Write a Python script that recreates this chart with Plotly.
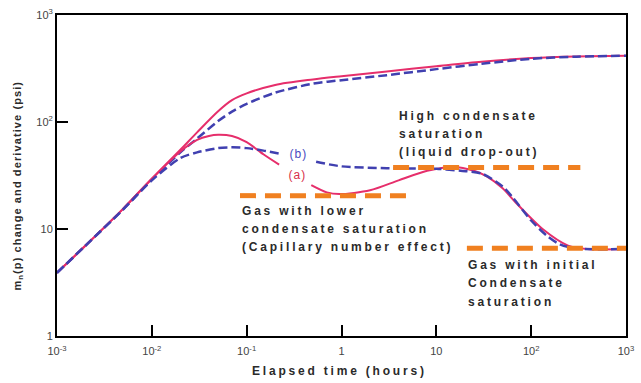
import json
import plotly.graph_objects as go

# Elapsed time (hours) for the pressure-change curves
t_change = [0.001, 0.002, 0.005, 0.01, 0.02, 0.03, 0.05, 0.07, 0.1, 0.2, 0.5, 1, 3, 10, 30, 100, 300, 1000]
# m_n(p) change, case (a) solid and case (b) dashed
change_a = [3.9, 7.0, 15.5, 29.5, 55, 80, 126, 160, 185, 222, 250, 268, 297, 332, 366, 396, 410, 416]
change_b = [3.9, 7.0, 15.3, 29, 52, 70, 102, 125, 148, 188, 228, 246, 274, 312, 350, 390, 408, 416]

# Derivative, case (a) (None = break around the "(a)" label)
t_deriv_a = [0.001, 0.002, 0.005, 0.01, 0.02, 0.03, 0.04, 0.05, 0.07, 0.1, 0.15, 0.22,
             0.35, 0.48, 0.7, 0.95, 2, 4, 8, 15, 25, 34, 50, 69, 132, 245, 390, 1000]
deriv_a = [3.9, 7.0, 15.5, 29.5, 53, 68, 74, 76, 74, 65, 50, 40,
           None, 25.7, 22, 21.2, 23, 28.5, 35, 38, 35, 31, 24, 17.6, 10, 7.0, 6.5, 6.5]

# Derivative, case (b) (None = break around the "(b)" label)
t_deriv_b = [0.001, 0.002, 0.005, 0.01, 0.02, 0.03, 0.05, 0.07, 0.1, 0.15, 0.24,
             0.38, 0.54, 1, 3, 10, 18, 30, 50, 63, 100, 150, 200, 290, 1000]
deriv_b = [3.9, 7.0, 15.3, 28.5, 46, 52, 57, 58, 57, 54, 50,
           None, 42.5, 38.5, 37, 36.5, 35, 33, 25, 20, 12, 8.5, 7.2, 6.6, 6.5]

# Reference stabilisation levels
lower_sat_t = [0.085, 5.9]
lower_sat_level = [20.5, 20.5]
high_sat_t = [3.5, 330]
high_sat_level = [37.5, 37.5]
initial_sat_t = [21, 1000]
initial_sat_level = [6.6, 6.6]

x_ticks = [0.001, 0.01, 0.1, 1, 10, 100, 1000]
x_ticktext = ["10<sup>-3</sup>", "10<sup>-2</sup>", "10<sup>-1</sup>", "1", "10",
              "10<sup>2</sup>", "10<sup>3</sup>"]
y_ticks = [1, 10, 100, 1000]
y_ticktext = ["1", "10", "10<sup>2</sup>", "10<sup>3</sup>"]

PINK = "#e62e6b"
BLUE = "#4040b0"
ORANGE = "#f08020"
TEXT = "#2a2a2a"
FONT = "Liberation Sans, Arial, sans-serif"

fig = go.Figure()

fig.add_trace(go.Scatter(x=t_change, y=change_a, mode="lines",
                         line=dict(color=PINK, width=2, shape="spline", smoothing=0.8)))
fig.add_trace(go.Scatter(x=t_change, y=change_b, mode="lines",
                         line=dict(color=BLUE, width=2.5, dash="9px,4px", shape="spline", smoothing=0.8)))
fig.add_trace(go.Scatter(x=t_deriv_a, y=deriv_a, mode="lines", connectgaps=False,
                         line=dict(color=PINK, width=2, shape="spline", smoothing=0.8)))
fig.add_trace(go.Scatter(x=t_deriv_b, y=deriv_b, mode="lines", connectgaps=False,
                         line=dict(color=BLUE, width=2.5, dash="9px,4px", shape="spline", smoothing=0.8)))

for tx, lv in [(lower_sat_t, lower_sat_level), (high_sat_t, high_sat_level),
               (initial_sat_t, initial_sat_level)]:
    fig.add_trace(go.Scatter(x=tx, y=lv, mode="lines",
                             line=dict(color=ORANGE, width=5, dash="16px,9px")))

annotations = []
spacing = []


def label(text, lx, ly, size=12, color=TEXT, weight="bold", ls=2.8, xanchor="left",
          align="left", xref="x", yref="y", angle=0):
    annotations.append(dict(text=text, x=lx, y=ly, xref=xref, yref=yref,
                            xanchor=xanchor, yanchor="middle", align=align,
                            showarrow=False, textangle=angle,
                            font=dict(family=FONT, size=size, color=color, weight=weight)))
    spacing.append(ls)


# text blocks, one annotation per line (x, y in log10 units of the axes)
for i, line in enumerate(["High condensate", "saturation", "(liquid drop-out)"]):
    label(line, 0.586, [2.06, 1.886, 1.72][i])
for i, line in enumerate(["Gas with lower", "condensate saturation", "(Capillary number effect)"]):
    label(line, -1.067, [1.168, 1.002, 0.828][i])
for i, line in enumerate(["Gas with initial", "Condensate", "saturation"]):
    label(line, 1.314, [0.662, 0.497, 0.322][i])

label("(b)", -0.453, 1.70, size=12, color="#4a4ac0", weight="normal", ls=1,
      xanchor="center", align="center")
label("(a)", -0.464, 1.505, size=12, color="#d8304c", weight="normal", ls=1,
      xanchor="center", align="center")

# axis titles
label("Elapsed time (hours)", 0.497, -0.108, size=12, ls=2.8, xanchor="center",
      align="center", xref="paper", yref="paper")
label("m<sub>n</sub>(p) change and derivative (psi)", -0.068, 0.47, size=11, ls=1.1,
      xanchor="center", align="center", xref="paper", yref="paper", angle=-90)

axis_common = dict(type="log", showgrid=False, zeroline=False, showline=True,
                   linecolor="black", linewidth=2, mirror=True, ticks="inside",
                   ticklen=11, tickwidth=2, tickcolor="black",
                   tickfont=dict(family=FONT, size=11, color="#444"))

fig.update_layout(
    width=641, height=383,
    margin=dict(l=57, r=7, t=10, b=47),
    paper_bgcolor="white", plot_bgcolor="white",
    showlegend=False,
    annotations=annotations,
    xaxis=dict(range=[-3, 3], tickvals=x_ticks, ticktext=x_ticktext,
               ticklabelstandoff=4, **axis_common),
    yaxis=dict(range=[0, 3], tickvals=y_ticks, ticktext=y_ticktext, **axis_common),
)

post = """
var gd = document.getElementById('{plot_id}');
var ls = %s;
function applySpacing() {
  gd.querySelectorAll('g.annotation').forEach(function (g) {
    var i = +g.getAttribute('data-index');
    var t = g.querySelector('text.annotation-text');
    if (t && ls[i]) { t.style.letterSpacing = ls[i] + 'px'; }
  });
}
applySpacing();
gd.on('plotly_afterplot', applySpacing);
""" % json.dumps(spacing)

fig.write_html("out.html", post_script=post)
